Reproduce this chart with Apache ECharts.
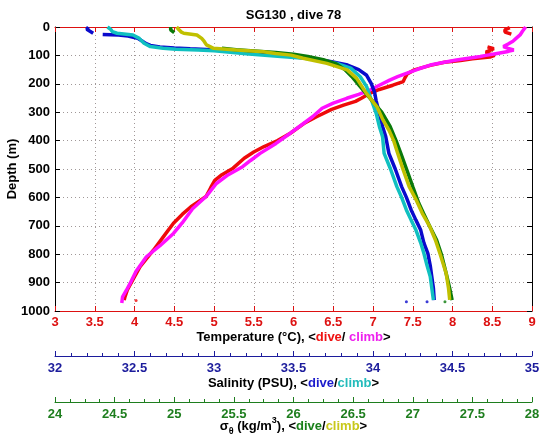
<!DOCTYPE html>
<html><head><meta charset="utf-8">
<script src="https://cdn.jsdelivr.net/npm/echarts@6/dist/echarts.min.js"></script>
<style>html,body{margin:0;padding:0;background:#fff}#c{width:543px;height:442px}</style>
</head><body><div id="c"></div><script>
// ---------- data ----------
const depthTicks = [0,100,200,300,400,500,600,700,800,900,1000];

const tempDiveDepth = [2,10,18,25,45,70,76,82,88,95,100,106,112,118,124,135,151,165,180,192,205,220,235,250,262,275,290,316,340,374,400,421,440,462,497,520,540,565,597,633,660,691,740,785,844,890,926,950,962];
const tempDiveVal   = [8.72,8.66,8.66,8.74,null,8.44,8.52,8.47,8.42,8.46,8.53,8.47,8.25,8.10,7.90,7.72,7.52,7.43,7.40,7.38,7.25,7.08,6.95,6.86,6.78,6.63,6.48,6.29,6.13,5.96,5.80,5.63,5.50,5.38,5.24,5.10,5.01,4.96,4.90,4.71,4.60,4.49,4.36,4.24,4.07,3.98,3.91,3.88,3.87];

const tempClimbDepth = [0,5,15,28,40,50,60,69,75,81,86,93,100,104,110,116,125,134,148,163,175,187,205,222,237,251,268,286,316,345,374,410,445,470,492,520,551,597,640,690,727,770,809,860,900,926,950,972];
const tempClimbVal   = [8.92,8.91,8.88,8.85,8.80,8.76,8.70,8.64,8.70,8.77,8.70,8.56,8.42,8.35,8.20,8.05,7.88,7.72,7.57,7.42,7.31,7.21,7.08,6.96,6.82,6.67,6.50,6.36,6.24,6.10,5.96,5.78,5.58,5.46,5.36,5.18,5.03,4.90,4.73,4.60,4.49,4.32,4.15,4.02,3.95,3.90,3.85,3.84];

const salDiveDepth = [0,8,15,22,24,26,28,32,40,50,58,65,70,74,77,79,81,84,88,93,99,104,112,122,134,150,170,200,230,260,304,350,386,445,500,562,600,644,680,715,760,797,840,880,920,962];
const salDiveVal   = [32.21,32.20,32.22,32.24,null,32.30,32.40,32.46,32.52,32.55,32.57,32.60,32.66,32.75,32.85,32.95,33.05,33.15,33.25,33.33,33.40,33.48,33.62,33.74,33.84,33.91,33.96,33.99,34.01,34.02,34.04,34.06,34.08,34.10,34.14,34.18,34.21,34.24,34.27,34.30,34.32,34.345,34.36,34.37,34.38,34.385];

const salClimbDepth = [0,8,16,22,28,40,57,69,75,78,81,84,90,95,99,104,110,118,128,145,175,210,257,304,350,386,445,500,562,600,644,680,715,760,797,840,879,920,961];
const salClimbVal   = [32.33,32.35,32.36,32.39,32.49,32.53,32.56,32.60,32.68,32.76,32.90,33.00,33.12,33.22,33.30,33.42,33.57,33.68,33.77,33.86,33.92,33.96,33.99,34.02,34.04,34.06,34.07,34.11,34.15,34.18,34.21,34.24,34.27,34.30,34.32,34.34,34.36,34.37,34.38];

const sigDiveDepth = [0,10,20,40,75,80,85,90,96,104,115,130,150,175,200,230,260,300,350,400,445,503,562,620,656,700,750,800,867,920,962];
const sigDiveVal   = [24.97,24.97,25.00,null,25.40,25.52,25.70,25.85,26.00,26.12,26.25,26.36,26.43,26.49,26.54,26.60,26.66,26.74,26.81,26.86,26.90,26.95,27.00,27.05,27.09,27.14,27.20,27.24,27.28,27.31,27.33];

const sigClimbDepth = [0,10,18,22,28,40,50,63,75,81,87,93,99,110,128,151,181,233,281,327,363,400,440,503,562,610,656,700,750,800,867,920,961];
const sigClimbVal   = [25.02,25.04,25.06,25.08,25.19,25.23,25.25,25.27,25.33,25.52,25.75,25.85,25.98,26.08,26.28,26.45,26.53,26.61,26.70,26.75,26.80,26.84,26.87,26.92,26.97,27.03,27.08,27.14,27.19,27.23,27.28,27.30,27.31];

const tempStray = [[4.02, 963]];
const salStray  = [[34.21, 967], [34.34, 967]];
const sigStray  = [[27.27, 967]];

// ---------- chart ----------
const FONT = 'Liberation Sans, Arial, Helvetica, sans-serif';
const RED = '#dd1111', NAVY = '#1c1c9c', DGREEN = '#1e7e1e';
const C = {tDive:'#ee0a0a', tClimb:'#ff10ff', sDive:'#0a0acc', sClimb:'#10c0c0', gDive:'#0a7a0a', gClimb:'#c0c000'};

function pairs(depths, vals){ return depths.map((d,i)=>[vals[i]===null?'-':vals[i], d]); }

function lineSeries(name, xi, depths, vals, color){
  return {name, type:'line', xAxisIndex:xi, yAxisIndex:0, data:pairs(depths, vals),
    showSymbol:false, symbol:'none', connectNulls:false, animation:false, z:3,
    lineStyle:{color, width:3.5}, itemStyle:{color}};
}
function strays(xi, pts, color){
  return {type:'scatter', xAxisIndex:xi, yAxisIndex:0, data:pts, symbolSize:3, itemStyle:{color}, animation:false, z:3};
}

const bold = {fontFamily:FONT, fontWeight:'bold', fontSize:13};
const chart = echarts.init(document.getElementById('c'), null, {renderer:'canvas'});
const grid = {left:55, top:27, width:477, height:284, containLabel:false, outerBoundsMode:'none'};

const splitDots = {show:true, lineStyle:{type:[1,3], color:'#a09898', width:1}};

chart.setOption({
  animation:false,
  backgroundColor:'#fff',
  grid,
  graphic:[{type:'text', x:293.5, y:15, style:{text:'SG130 , dive 78', fill:'#000', align:'center', verticalAlign:'middle', font:'bold 13px '+FONT}}],
  xAxis:[
    {type:'value', position:'bottom', min:3, max:9, interval:0.5,
     axisLine:{onZero:false, lineStyle:{color:RED, width:1}},
     axisTick:{inside:true, length:5, lineStyle:{color:RED}},
     axisLabel:{...bold, color:RED, margin:5, formatter:v=>String(v)},
     splitLine:splitDots,
     name:'{b|Temperature (°C), <}{r|dive}{b|/ }{m|climb}{b|>}', nameLocation:'middle', nameGap:18, nameMoveOverlap:false,
     nameTextStyle:{rich:{
       b:{...bold, color:'#000', lineHeight:16},
       r:{...bold, color:'#ee1111', lineHeight:16},
       m:{...bold, color:'#ee22ee', lineHeight:16}}}},
    {type:'value', position:'top', min:3, max:9, interval:0.5,
     axisLine:{onZero:false, lineStyle:{color:RED, width:1}},
     axisTick:{inside:true, length:5, lineStyle:{color:RED}},
     axisLabel:{show:false}, splitLine:{show:false}},
    {type:'value', position:'bottom', offset:45, min:32, max:35, interval:0.5,
     axisLine:{onZero:false, lineStyle:{color:NAVY, width:1}},
     axisTick:{inside:true, length:5, lineStyle:{color:NAVY}},
     minorTick:{show:true, splitNumber:5, length:3, lineStyle:{color:NAVY}},
     axisLabel:{...bold, color:NAVY, margin:6, formatter:v=>String(v)},
     splitLine:{show:false},
     name:'{b|Salinity (PSU), <}{s|dive}{b|/}{c|climb}{b|>}', nameLocation:'middle', nameGap:19, nameMoveOverlap:false,
     nameTextStyle:{rich:{
       b:{...bold, color:'#000', lineHeight:16},
       s:{...bold, color:'#1a1acc', lineHeight:16},
       c:{...bold, color:'#22bbbb', lineHeight:16}}}},
    {type:'value', position:'bottom', offset:91, min:24, max:28, interval:0.5,
     axisLine:{onZero:false, lineStyle:{color:DGREEN, width:1}},
     axisTick:{inside:true, length:5, lineStyle:{color:DGREEN}},
     minorTick:{show:true, splitNumber:4, length:3, lineStyle:{color:DGREEN}},
     axisLabel:{...bold, color:DGREEN, margin:6, formatter:v=>String(v)},
     splitLine:{show:false},
     name:'{b|σ}{sub|θ}{b| (kg/m}{sup|3}{b|), <}{g|dive}{b|/}{y|climb}{b|>}', nameLocation:'middle', nameGap:14, nameMoveOverlap:false,
     nameTextStyle:{rich:{
       b:{...bold, color:'#000', lineHeight:20},
       sub:{fontFamily:FONT, fontWeight:'bold', fontSize:9, color:'#000', lineHeight:10, verticalAlign:'bottom'},
       sup:{fontFamily:FONT, fontWeight:'bold', fontSize:9, color:'#000', lineHeight:10, verticalAlign:'top'},
       g:{...bold, color:'#1a801a', lineHeight:20},
       y:{...bold, color:'#c8c81a', lineHeight:20}}}}
  ],
  yAxis:[
    {type:'value', inverse:true, min:0, max:1000, interval:100, position:'left',
     axisLine:{onZero:false, lineStyle:{color:'#000', width:1}},
     axisTick:{inside:true, length:5, lineStyle:{color:'#000'}},
     axisLabel:{...bold, color:'#000', margin:5, formatter:v=>String(v)},
     splitLine:splitDots,
     name:'Depth (m)', nameLocation:'middle', nameRotate:90, nameGap:36, nameMoveOverlap:false,
     nameTextStyle:{...bold, color:'#000'}},
    {type:'value', inverse:true, min:0, max:1000, interval:100, position:'right',
     axisLine:{onZero:false, lineStyle:{color:'#000', width:1}},
     axisTick:{inside:true, length:5, lineStyle:{color:'#000'}},
     axisLabel:{show:false}, splitLine:{show:false}}
  ],
  series:[
    lineSeries('T dive', 0, tempDiveDepth, tempDiveVal, C.tDive),
    lineSeries('T climb', 0, tempClimbDepth, tempClimbVal, C.tClimb),
    strays(0, tempStray, C.tDive),
    lineSeries('S dive', 2, salDiveDepth, salDiveVal, C.sDive),
    lineSeries('S climb', 2, salClimbDepth, salClimbVal, C.sClimb),
    strays(2, salStray, C.sDive),
    lineSeries('sig dive', 3, sigDiveDepth, sigDiveVal, C.gDive),
    lineSeries('sig climb', 3, sigClimbDepth, sigClimbVal, C.gClimb),
    strays(3, sigStray, C.gDive)
  ]
});
</script></body></html>
